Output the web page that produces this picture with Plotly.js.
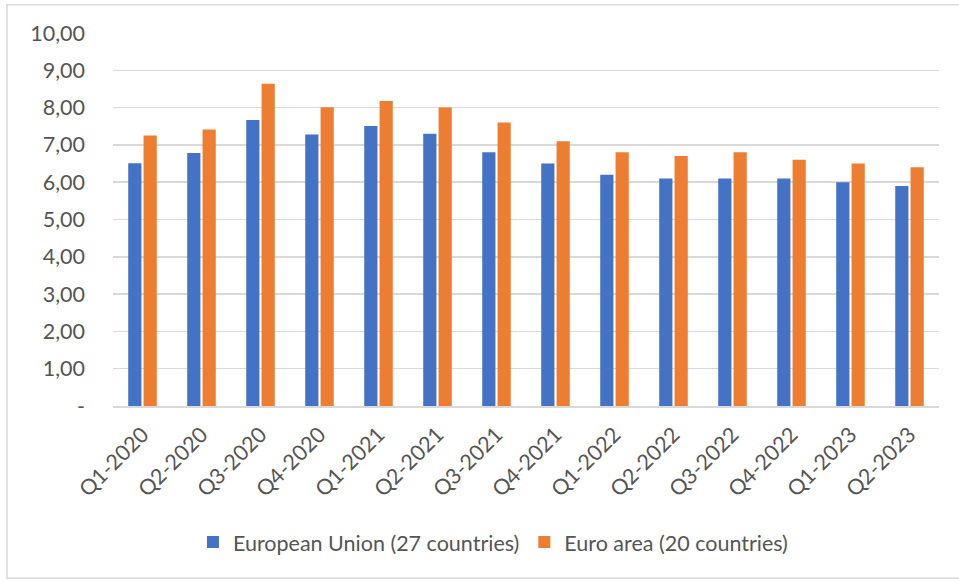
<!DOCTYPE html>
<html>
<head>
<meta charset="utf-8">
<script src="https://cdn.plot.ly/plotly-3.0.1.min.js"></script>
<style>
html,body{margin:0;padding:0;background:#fff;}
#chart{width:959px;height:581px;}
</style>
</head>
<body>
<div id="chart"></div>
<script>
const categories = ["Q1-2020","Q2-2020","Q3-2020","Q4-2020","Q1-2021","Q2-2021","Q3-2021","Q4-2021","Q1-2022","Q2-2022","Q3-2022","Q4-2022","Q1-2023","Q2-2023"];
const euValues = [6.51, 6.78, 7.67, 7.28, 7.51, 7.30, 6.80, 6.50, 6.20, 6.10, 6.10, 6.10, 6.00, 5.90];
const euroAreaValues = [7.25, 7.41, 8.64, 8.01, 8.18, 8.00, 7.60, 7.10, 6.80, 6.70, 6.80, 6.60, 6.50, 6.40];
const yTickVals = [0,1,2,3,4,5,6,7,8,9,10];
const yTickText = ["-","1,00","2,00","3,00","4,00","5,00","6,00","7,00","8,00","9,00","10,00"];
const seriesNames = ["European Union (27 countries)", "Euro area (20 countries)"];

const FONT = "Lato, 'Open Sans', sans-serif";
const TXT = "#555555";
const FS = 21.5;

const traces = [
  {type:"bar", x:categories, y:euValues, name:seriesNames[0], marker:{color:"#4472C4"}, hoverinfo:"none"},
  {type:"bar", x:categories, y:euroAreaValues, name:seriesNames[1], marker:{color:"#ED7D31"}, hoverinfo:"none"}
];

const layout = {
  width:959, height:581,
  margin:{l:113, r:20, t:33, b:175},
  paper_bgcolor:"#fff", plot_bgcolor:"#fff",
  font:{family:FONT, color:TXT, size:FS},
  barmode:"group", bargap:0.48, bargroupgap:0.14,
  showlegend:true,
  legend:{orientation:"h", x:0.46, xanchor:"center", y:-0.365, yanchor:"middle",
          font:{family:FONT, size:FS, color:TXT}, itemwidth:30, traceorder:"normal"},
  xaxis:{type:"category", showgrid:false, zeroline:false, showline:true, linecolor:"#d9d9d9", linewidth:1.5,
         tickangle:-45, ticks:"", tickfont:{family:FONT, size:FS, color:TXT}, ticklabelstandoff:6},
  yaxis:{range:[0,10], tickvals:yTickVals, ticktext:yTickText, showgrid:true, gridcolor:"#d9d9d9", gridwidth:1.5,
         zeroline:false, showline:false, ticks:"", tickfont:{family:FONT, size:FS, color:TXT}, ticklabelstandoff:27},
  shapes:[{type:"rect", xref:"paper", yref:"paper", x0:-0.1284, x1:1.05, y0:-0.4615, y1:1.076,
           line:{color:"#d9d9d9", width:1.5}, fillcolor:"rgba(0,0,0,0)", layer:"below"}]
};

Plotly.newPlot("chart", traces, layout, {staticPlot:true, displayModeBar:false});
</script>
</body>
</html>
